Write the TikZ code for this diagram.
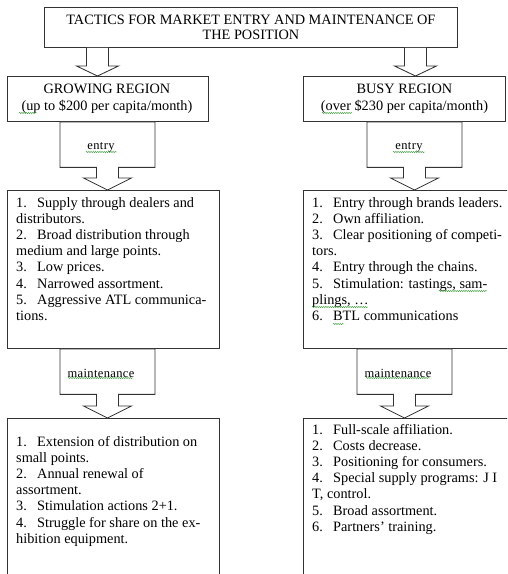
\documentclass[tikz,border=0pt]{standalone}
\usepackage{fontspec}
\setmainfont{Liberation Serif}
\newfontfamily\tagfont[LetterSpace=3]{Liberation Serif}
\usetikzlibrary{calc,decorations.pathmorphing}

\definecolor{linecol}{HTML}{333333}
\definecolor{proofgreen}{HTML}{3C9A3C}

\tikzset{
  frame/.style={draw=linecol, line width=0.85pt, fill=white, rectangle,
    inner sep=0pt, anchor=north west},
  blockarrow/.style={draw=linecol, line width=0.85pt, fill=white, line join=miter},
  heading/.style={align=center, font=\fontsize{14.3}{16}\selectfont},
  listtext/.style={anchor=base west, inner sep=0pt, font=\fontsize{14.3}{16.2}\selectfont},
  tag/.style={inner sep=0pt, font=\tagfont\fontsize{12.5}{14}\selectfont},
  proof/.style={draw=proofgreen, line width=0.45pt, decorate,
    decoration={snake, amplitude=0.6pt, segment length=2.2pt}}
}

% numbered entry with a fixed tab after the number
\newcommand\itm[1]{\makebox[21pt][l]{#1}}

% plain block arrow from the bottom of #1 to the top of #2 at x = #3
\newcommand\blockdown[3]{%
  \draw[blockarrow] (#3-11,0 |- #1.south)
    -- ($(#3-11,0 |- #2.north)+(0,-10)$)
    -- ($(#3-21,0 |- #2.north)+(0,-10)$)
    -- (#3,0 |- #2.north)
    -- ($(#3+21,0 |- #2.north)+(0,-10)$)
    -- ($(#3+11,0 |- #2.north)+(0,-10)$)
    -- (#3+11,0 |- #1.south);}

% down-arrow callout hanging from #1 and pointing at #2, centred at x = #3
\newcommand\calloutdown[3]{%
  \draw[blockarrow] (#3-47.5,0 |- #1.south)
    -- ($(#3-47.5,0 |- #1.south)+(0,45.5)$)
    -- ($(#3-11,0 |- #1.south)+(0,45.5)$)
    -- ($(#3-11,0 |- #2.north)+(0,-12)$)
    -- ($(#3-24,0 |- #2.north)+(0,-12)$)
    -- (#3,0 |- #2.north)
    -- ($(#3+24,0 |- #2.north)+(0,-12)$)
    -- ($(#3+11,0 |- #2.north)+(0,-12)$)
    -- ($(#3+11,0 |- #1.south)+(0,45.5)$)
    -- ($(#3+47.5,0 |- #1.south)+(0,45.5)$)
    -- (#3+47.5,0 |- #1.south) -- cycle;}

\begin{document}
\begin{tikzpicture}[x=1pt, y=-1pt]
  \useasboundingbox (0,0) rectangle (507,574);
  \fill[white] (0,0) rectangle (507,574);
  \clip (0,0) rectangle (507,574);

  % title
  \node[frame, minimum width=413, minimum height=40] (title) at (44,7) {};
  \node[heading, font=\fontsize{14.3}{15}\selectfont] (titletext) at (title.center)
    {TACTICS FOR MARKET ENTRY AND MAINTENANCE OF\\THE POSITION};

  % regions
  \node[frame, minimum width=201, minimum height=45] (growing) at (7,76) {};
  \node[heading, font=\fontsize{14.3}{17}\selectfont] (growingtext) at ($(growing.center)+(-1,0)$)
    {GROWING REGION\\(up to \$200 per capita/month)};
  \node[frame, minimum width=202, minimum height=45] (busy) at (303,76) {};
  \node[heading, font=\fontsize{14.3}{17}\selectfont] (busytext) at (busy.center)
    {BUSY REGION\\(over \$230 per capita/month)};

  % tactic lists
  \node[frame, minimum width=212, minimum height=158] (growentry) at (7,190) {};
  \node[frame, minimum width=230, minimum height=158] (busyentry) at (303,190) {};
  \node[frame, minimum width=212, minimum height=200] (growkeep) at (7,418) {};
  \node[frame, minimum width=230, minimum height=200] (busykeep) at (303,418) {};

  % arrows
  \blockdown{title}{growing}{97.5}
  \blockdown{title}{busy}{415.5}
  \calloutdown{growing}{growentry}{107.5}
  \calloutdown{busy}{busyentry}{414.5}
  \calloutdown{growentry}{growkeep}{107.5}
  \calloutdown{busyentry}{busykeep}{404.5}

  \node[tag] (entryL) at (101,147) {entry};
  \node[tag] (entryR) at (409,147) {entry};
  \node[tag] (keepL) at (101,373) {maintenance};
  \node[tag] (keepR) at (398,373) {maintenance};

  \node[listtext] (listA) at (16,207) {\begin{tabular}[t]{@{}l@{}}
    \itm{1.}Supply through dealers and\\
    distributors.\\
    \itm{2.}Broad distribution through\\
    medium and large points.\\
    \itm{3.}Low prices.\\
    \itm{4.}Narrowed assortment.\\
    \itm{5.}Aggressive ATL communica-\\
    tions.
  \end{tabular}};

  \node[listtext] (listB) at (312,207) {\begin{tabular}[t]{@{}l@{}}
    \itm{1.}Entry through brands leaders.\\
    \itm{2.}Own affiliation.\\
    \itm{3.}Clear positioning of competi-\\
    tors.\\
    \itm{4.}Entry through the chains.\\
    \itm{5.}Stimulation: tastings, sam-\\
    plings, \dots\\
    \itm{6.}BTL communications
  \end{tabular}};

  \node[listtext] (listC) at (16,446) {\begin{tabular}[t]{@{}l@{}}
    \itm{1.}Extension of distribution on\\
    small points.\\
    \itm{2.}Annual renewal of\\
    assortment.\\
    \itm{3.}Stimulation actions 2+1.\\
    \itm{4.}Struggle for share on the ex-\\
    hibition equipment.
  \end{tabular}};

  \node[listtext] (listD) at (312,434) {\begin{tabular}[t]{@{}l@{}}
    \itm{1.}Full-scale affiliation.\\
    \itm{2.}Costs decrease.\\
    \itm{3.}Positioning for consumers.\\
    \itm{4.}Special supply programs: J I\\
    T, control.\\
    \itm{5.}Broad assortment.\\
    \itm{6.}Partners' training.
  \end{tabular}};

  % spell-check underlines
  \draw[proof] (19,113) -- (36,113);
  \draw[proof] (322,113) -- (352,113);
  \draw[proof] (86,152) -- (117,152);
  \draw[proof] (393,152) -- (425,152);
  \draw[proof] (68,378) -- (133,378);
  \draw[proof] (366,378) -- (430,378);
  \draw[proof] (439,291) -- (487,291);
  \draw[proof] (312,307) -- (368,307);
  \draw[proof] (333,324) -- (344,324);
\end{tikzpicture}
\end{document}
